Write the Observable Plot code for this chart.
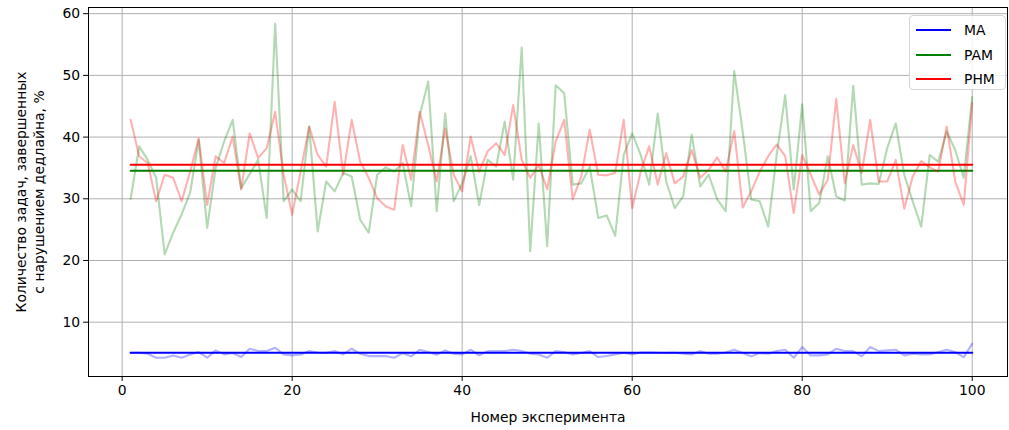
<!DOCTYPE html>
<html>
<head>
<meta charset="utf-8">
<script src="https://cdn.jsdelivr.net/npm/d3@7"></script>
<script src="https://cdn.jsdelivr.net/npm/@observablehq/plot@0.6"></script>
<style>
  html, body { margin: 0; padding: 0; background: #fff; }
  #wrap { position: relative; width: 1009px; height: 430px; font-family: "DejaVu Sans", sans-serif; }
  #legend { position: absolute; left: 909px; top: 15px; width: 95px; height: 73px;
    border: 1px solid #d4d4d4; border-radius: 4px; background: rgba(255,255,255,0.85);
    font-family: "DejaVu Sans", sans-serif; font-size: 13.9px; color: #000; }
  .row { position: absolute; left: 0; height: 20px; display: flex; align-items: center; }
  .sw { position: absolute; left: 6px; width: 35px; height: 2px; }
  .lb { position: absolute; left: 54px; white-space: nowrap; line-height: 20px; }
</style>
</head>
<body>
<div id="wrap"></div>
<script>
// ---- data ----
const experiments = d3.range(1, 101);
const seriesNames = ["MA", "PAM", "PHM"];
const seriesColors = ["blue", "green", "red"];
const xTicks = [0, 20, 40, 60, 80, 100];
const yTicks = [10, 20, 30, 40, 50, 60];

const ma = [5.05,5.05,4.89,4.24,4.24,4.62,4.24,4.78,5.16,4.24,
            5.43,4.78,5.00,4.35,5.70,5.32,5.32,5.86,4.78,4.62,
            4.78,5.32,5.10,5.05,5.32,4.78,5.70,4.89,4.51,4.51,
            4.51,4.24,5.00,4.46,5.54,5.16,4.73,5.43,4.89,4.78,
            5.54,4.62,5.32,5.32,5.32,5.54,5.32,4.89,4.78,4.24,
            5.32,5.16,4.78,5.00,5.32,4.35,4.51,4.78,5.05,4.78,
            5.10,5.10,5.05,5.00,5.05,4.89,4.78,5.32,4.89,4.89,
            5.10,5.54,5.00,4.46,5.00,4.89,5.32,5.54,4.24,5.97,
            4.62,4.62,4.78,5.70,5.32,5.32,4.46,5.97,5.32,5.43,
            5.54,4.62,4.89,4.78,4.78,5.16,5.54,5.16,4.35,6.51];

const pam = [30.0,38.5,36.3,33.4,21.0,24.5,27.5,31.0,39.5,25.3,
             35.0,39.3,42.8,31.7,34.0,36.3,26.9,58.4,29.6,31.5,
             29.6,41.7,24.7,32.8,31.2,34.2,33.6,26.6,24.5,33.9,
             35.1,34.4,35.8,28.8,43.5,49.0,28.0,43.8,29.6,32.5,
             36.9,29.0,36.3,35.2,42.5,33.1,54.5,21.5,42.2,22.3,
             48.4,47.1,32.3,32.5,35.2,26.9,27.3,24.0,37.1,40.6,
             37.1,32.3,43.8,32.8,28.5,30.4,40.4,32.0,33.9,29.9,
             28.0,50.7,40.9,29.9,29.6,25.5,37.1,46.8,31.5,45.3,
             28.0,29.3,36.9,30.4,29.7,48.3,32.3,32.5,32.4,38.2,
             42.2,33.9,29.6,25.5,37.1,36.0,40.9,37.9,33.4,46.5];

const phm = [42.8,36.9,35.8,29.6,33.9,33.4,29.6,34.4,39.8,29.0,
             36.9,35.8,40.1,31.5,40.6,36.6,38.2,44.1,33.9,27.4,
             34.5,41.7,37.1,35.2,45.7,33.9,42.8,36.0,33.4,30.1,
             28.8,28.2,38.7,33.1,44.1,38.7,32.8,41.4,33.9,31.2,
             40.1,34.4,37.7,39.0,37.1,45.2,36.3,33.4,35.5,31.5,
             39.3,42.8,29.9,33.6,41.2,33.9,33.8,34.2,42.8,28.5,
             34.4,38.5,32.3,37.4,32.5,33.6,37.9,33.4,34.7,36.7,
             34.4,41.0,28.6,31.2,34.4,36.9,38.8,36.9,27.7,37.1,
             33.9,30.7,33.1,46.2,32.5,38.7,34.2,42.8,32.8,32.8,
             36.3,28.4,33.6,36.1,35.1,34.4,41.7,32.8,29.0,45.5];

const meanValues = [5.05, 34.55, 35.52];

const xLabel = "Номер эксперимента";
const yLabel = "Количество задач, завершенных\nс нарушением дедлайна, %";

// ---- build ----
const seriesValues = [ma, pam, phm];
const font = "DejaVu Sans, sans-serif";

const marks = [
  Plot.gridX({ticks: xTicks, stroke: "#b0b0b0", strokeOpacity: 1, strokeWidth: 1}),
  Plot.gridY({ticks: yTicks, stroke: "#b0b0b0", strokeOpacity: 1, strokeWidth: 1}),
];
seriesValues.forEach((vals, k) => {
  marks.push(Plot.line(experiments, {x: d => d, y: (d, i) => vals[i],
    stroke: seriesColors[k], strokeOpacity: 0.3, strokeWidth: 2.1}));
  marks.push(Plot.line(experiments, {x: d => d, y: () => meanValues[k],
    stroke: seriesColors[k], strokeWidth: 2.1}));
});
marks.push(
  Plot.frame({stroke: "black", strokeWidth: 1}),
  Plot.axisX({ticks: xTicks, tickSize: 4.9, tickPadding: 3.5, label: null, fontSize: 13.9, tickFormat: d => String(d)}),
  Plot.axisY({ticks: yTicks, tickSize: 4.9, tickPadding: 3.5, label: null, fontSize: 13.9, tickFormat: d => String(d)}),
  Plot.text([xLabel], {frameAnchor: "bottom", lineAnchor: "middle", textAnchor: "middle", dy: 41, text: d => d, fontSize: 13.9, fill: "black"}),
  Plot.text([yLabel], {frameAnchor: "left", textAnchor: "middle", lineAnchor: "middle", dx: -59, rotate: -90, text: d => d, fontSize: 13.9, fill: "black", lineHeight: 1.27})
);

const chart = Plot.plot({
  width: 1009,
  height: 430,
  marginLeft: 88,
  marginRight: 2,
  marginTop: 7,
  marginBottom: 54,
  style: {fontFamily: font, fontSize: "13.9px", color: "black", background: "white"},
  x: {domain: [-3.96, 104.15]},
  y: {domain: [1.2, 61.0]},
  marks
});

const wrap = document.getElementById("wrap");
wrap.appendChild(chart);

// legend
const legend = document.createElement("div");
legend.id = "legend";
seriesNames.forEach((name, k) => {
  const row = document.createElement("div");
  row.className = "row";
  row.style.top = (4 + k * 24.5) + "px";
  row.style.width = "95px";
  const sw = document.createElement("div");
  sw.className = "sw";
  sw.style.background = seriesColors[k];
  sw.style.top = "9px";
  const lb = document.createElement("div");
  lb.className = "lb";
  lb.textContent = name;
  lb.style.top = "0px";
  row.appendChild(sw);
  row.appendChild(lb);
  legend.appendChild(row);
});
wrap.appendChild(legend);
</script>
</body>
</html>
